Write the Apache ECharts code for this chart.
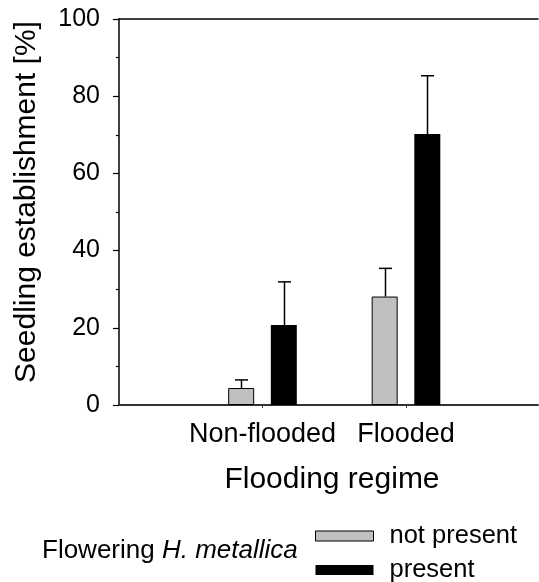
<!DOCTYPE html>
<html><head><meta charset="utf-8">
<script src="https://cdn.jsdelivr.net/npm/echarts@6/dist/echarts.min.js"></script>
<style>html,body{margin:0;padding:0;background:#fff}#c{width:539px;height:582px}</style>
</head><body><div id="c"></div>
<script>
const categories = ['Non-flooded', 'Flooded'];
const categoryPos = [1, 2];
const notPresentMean = [4.4, 28.1];
const notPresentUpper = [6.5, 35.4];
const presentMean = [20.7, 70.2];
const presentUpper = [31.9, 85.3];
const seriesNames = ['not present', 'present'];

const FONT = '"Liberation Sans", Arial, sans-serif';
const chart = echarts.init(document.getElementById('c'), null, {renderer: 'canvas'});

function errSeries(means, uppers, off) {
  return {
    type: 'custom',
    xAxisIndex: 0, yAxisIndex: 0,
    silent: true, z: 5,
    data: categoryPos.map((x, i) => [x, means[i], uppers[i]]),
    renderItem: function (params, api) {
      const x = api.value(0), m = api.value(1), t = api.value(2);
      const p0 = api.coord([x, m]), p1 = api.coord([x, t]);
      const cx = Math.round(p0[0] + off) + 0.5;
      return {type: 'group', children: [
        {type: 'line', shape: {x1: cx, y1: p0[1], x2: cx, y2: p1[1]}, style: {stroke: '#000', lineWidth: 1.5}},
        {type: 'line', shape: {x1: cx - 6.5, y1: p1[1], x2: cx + 6.5, y2: p1[1]}, style: {stroke: '#000', lineWidth: 1.5}}
      ]};
    }
  };
}

chart.setOption({
  animation: false,
  backgroundColor: '#fff',
  textStyle: {fontFamily: FONT, color: '#000'},
  grid: {left: 119, right: 1, top: 19, bottom: 177},
  xAxis: [{
    type: 'value', min: 0, max: 2.92, interval: 1,
    axisLine: {show: true, lineStyle: {color: '#333', width: 2}},
    axisTick: {show: true, length: 3, lineStyle: {color: '#333'}},
    splitLine: {show: false},
    axisLabel: {
      margin: 16, fontSize: 27, color: '#000', fontFamily: FONT,
      showMinLabel: false, showMaxLabel: false,
      formatter: v => { const i = categoryPos.indexOf(v); return i >= 0 ? categories[i] : ''; }
    }
  }, {
    type: 'value', position: 'top', min: 0, max: 2.92,
    axisLine: {show: true, onZero: false, lineStyle: {color: '#000', width: 1.5}},
    axisTick: {show: false}, axisLabel: {show: false}, splitLine: {show: false}
  }],
  yAxis: {
    type: 'value', min: 0, max: 100, interval: 20,
    axisLine: {show: true, lineStyle: {color: '#000', width: 1.5}},
    axisTick: {show: true, length: 6, lineStyle: {color: '#000', width: 1.2}},
    minorTick: {show: true, splitNumber: 2, length: 3, lineStyle: {color: '#000', width: 1.2}},
    splitLine: {show: false}, minorSplitLine: {show: false},
    axisLabel: {margin: 19, fontSize: 25, color: '#000', fontFamily: FONT}
  },
  legend: {
    orient: 'vertical', left: 315, top: 523, padding: 0, height: 70,
    itemWidth: 58, itemHeight: 10, itemGap: 8,
    icon: 'rect', selectedMode: false,
    textStyle: {fontSize: 25.5, color: '#000', fontFamily: FONT, padding: [0, 0, 0, 11]},
    data: [
      {name: seriesNames[0], itemStyle: {color: '#c0c0c0', borderColor: '#000', borderWidth: 1}},
      {name: seriesNames[1], itemStyle: {color: '#000'}}
    ]
  },
  graphic: [
    {type: 'text', x: 27, y: 202, rotation: Math.PI / 2,
     style: {text: 'Seedling establishment [%]', fontSize: 30, fontFamily: FONT, fill: '#000', align: 'center', verticalAlign: 'middle'}},
    {type: 'text', x: 332, y: 480,
     style: {text: 'Flooding regime', fontSize: 30, fontFamily: FONT, fill: '#000', align: 'center', verticalAlign: 'middle'}},
    {type: 'text', x: 42, y: 551,
     style: {text: '{a|Flowering }{b|H. metallica}', fill: '#000', align: 'left', verticalAlign: 'middle',
       rich: {a: {fontSize: 26, fontFamily: FONT, fill: '#000'}, b: {fontSize: 26, fontFamily: FONT, fontStyle: 'italic', fill: '#000'}}}}
  ],
  series: [
    {name: seriesNames[0], type: 'bar', barWidth: 26, barGap: '64%',
     data: categoryPos.map((x, i) => [x, notPresentMean[i]]),
     itemStyle: {color: '#c0c0c0', borderColor: '#000', borderWidth: 1}},
    {name: seriesNames[1], type: 'bar', barWidth: 26, barGap: '64%',
     data: categoryPos.map((x, i) => [x, presentMean[i]]),
     itemStyle: {color: '#000'}},
    errSeries(notPresentMean, notPresentUpper, -21.3),
    errSeries(presentMean, presentUpper, 21.3)
  ]
});
</script></body></html>
